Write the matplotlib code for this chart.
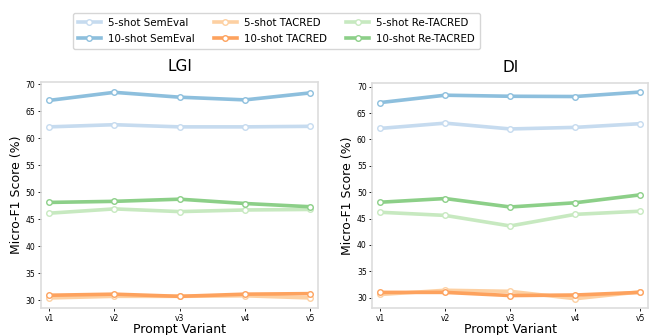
import matplotlib.pyplot as plt

variants = ["v1", "v2", "v3", "v4", "v5"]
series_names = ["5-shot SemEval", "10-shot SemEval", "5-shot TACRED",
                "10-shot TACRED", "5-shot Re-TACRED", "10-shot Re-TACRED"]

# LGI panel
lgi_5_semeval = [62.1, 62.5, 62.1, 62.1, 62.2]
lgi_10_semeval = [67.0, 68.5, 67.6, 67.1, 68.4]
lgi_5_tacred = [30.4, 30.7, 30.7, 30.8, 30.4]
lgi_10_tacred = [30.9, 31.1, 30.7, 31.1, 31.2]
lgi_5_retacred = [46.1, 46.9, 46.4, 46.7, 46.8]
lgi_10_retacred = [48.1, 48.3, 48.7, 47.9, 47.3]

# DI panel
di_5_semeval = [62.1, 63.1, 62.0, 62.3, 63.0]
di_10_semeval = [67.0, 68.4, 68.2, 68.15, 69.0]
di_5_tacred = [30.6, 31.4, 31.2, 29.8, 31.1]
di_10_tacred = [31.0, 31.0, 30.4, 30.5, 31.0]
di_5_retacred = [46.2, 45.6, 43.6, 45.8, 46.4]
di_10_retacred = [48.1, 48.8, 47.2, 48.0, 49.5]

colors = ["#c6dbef", "#8dbfdd", "#fdd0a2", "#fda25e", "#c7e9c0", "#8ccf88"]

panels = [
    ("LGI", [lgi_5_semeval, lgi_10_semeval, lgi_5_tacred, lgi_10_tacred,
             lgi_5_retacred, lgi_10_retacred], (28.5, 70.4)),
    ("DI", [di_5_semeval, di_10_semeval, di_5_tacred, di_10_tacred,
            di_5_retacred, di_10_retacred], (28.0, 70.7)),
]

fig = plt.figure(figsize=(6.52, 3.35), dpi=100)
axes = [fig.add_axes([0.063, 0.08, 0.425, 0.675]),
        fig.add_axes([0.571, 0.08, 0.423, 0.672])]

for ax, (title, data, ylim) in zip(axes, panels):
    for name, vals, c in zip(series_names, data, colors):
        ax.plot(variants, vals, color=c, lw=2.6, marker="o", ms=4,
                markerfacecolor="white", markeredgecolor=c, markeredgewidth=1.0,
                label=name)
    ax.set_title(title, fontsize=11, pad=8)
    ax.set_xlabel("Prompt Variant", fontsize=9, labelpad=0)
    ax.set_ylabel("Micro-F1 Score (%)", fontsize=9, labelpad=2)
    ax.set_ylim(*ylim)
    ax.set_xlim(-0.12, 4.12)
    ax.tick_params(labelsize=5.5, length=2, width=0.6, pad=2)
    for s in ax.spines.values():
        s.set_color("#dddddd")
        s.set_linewidth(1.2)

handles, labels = axes[0].get_legend_handles_labels()
fig.legend(handles, labels, loc="upper center", ncol=3, fontsize=7.4,
           bbox_to_anchor=(0.424, 0.978), frameon=True, edgecolor="#cccccc",
           handlelength=2.2, columnspacing=1.9, handletextpad=0.7,
           labelspacing=0.6, borderpad=0.5, fancybox=True)

fig.savefig("out.png", dpi=100)
